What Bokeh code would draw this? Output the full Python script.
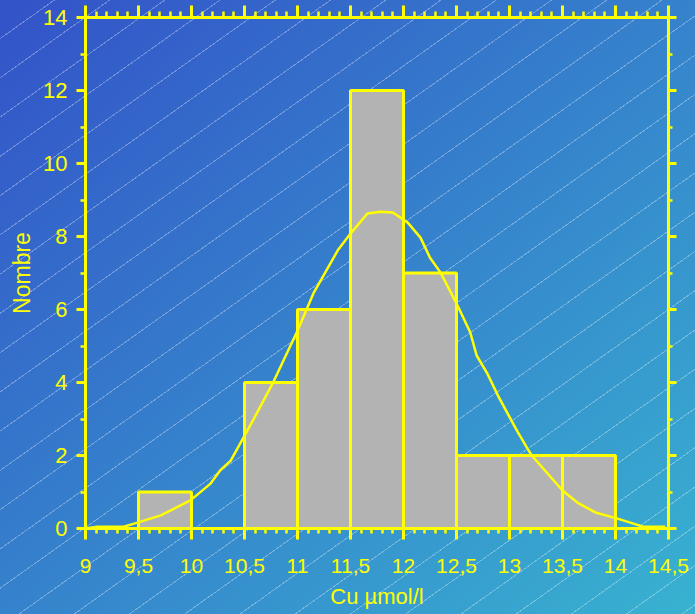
from bokeh.plotting import figure
from bokeh.models import (Range1d, LinearAxis, FixedTicker, ColumnDataSource,
                          GlobalInlineStyleSheet)
from bokeh.embed import file_html
from bokeh.resources import INLINE

# ---- data ----
bin_left = [9.5, 10.0, 10.5, 11.0, 11.5, 12.0, 12.5, 13.0, 13.5]
bin_right = [10.0, 10.5, 11.0, 11.5, 12.0, 12.5, 13.0, 13.5, 14.0]
counts = [1, 0, 4, 6, 12, 7, 2, 2, 2]

curve_x = [9.0, 9.11, 9.36, 9.49, 9.71, 9.99, 10.18, 10.27, 10.37, 10.58, 10.77,
           11.0, 11.15, 11.38, 11.5, 11.66, 11.78, 11.9, 12.04, 12.16, 12.25,
           12.35, 12.51, 12.63, 12.69, 12.79, 12.9, 13.07, 13.17, 13.21, 13.5,
           13.64, 13.81, 14.02, 14.26, 14.47]
curve_y = [0.0, 0.05, 0.05, 0.16, 0.36, 0.77, 1.23, 1.59, 1.86, 2.96, 4.0,
           5.42, 6.44, 7.62, 8.08, 8.63, 8.68, 8.66, 8.38, 7.97, 7.42,
           7.01, 6.11, 5.37, 4.74, 4.25, 3.59, 2.68, 2.19, 2.0, 1.04,
           0.71, 0.44, 0.27, 0.05, 0.05]

x_ticks = [9.0, 9.5, 10.0, 10.5, 11.0, 11.5, 12.0, 12.5, 13.0, 13.5, 14.0, 14.5]
x_tick_labels = ["9", "9,5", "10", "10,5", "11", "11,5", "12", "12,5", "13",
                 "13,5", "14", "14,5"]
x_minor = [round(9 + 0.1 * i, 1) for i in range(56)]
y_ticks = [0, 2, 4, 6, 8, 10, 12, 14]
y_tick_labels = ["0", "2", "4", "6", "8", "10", "12", "14"]
y_minor = list(range(0, 15))

x_label = "Cu µmol/l"
y_label = "Nombre"

YEL = "#ffff00"
FONT = "Liberation Sans"

css = GlobalInlineStyleSheet(css="""
html, body { margin: 0; padding: 0; height: 100%; overflow: hidden; }
html {
  background:
    repeating-linear-gradient(144.6deg, rgba(255,255,255,0) 0px, rgba(255,255,255,0) 31px,
                              rgba(255,255,255,0.3) 31px, rgba(255,255,255,0.3) 32px),
    linear-gradient(to bottom right, #3352c8, #38b2d0);
}
body { background: transparent; }
""")

p = figure(width=695, height=614, output_backend="svg", toolbar_location=None,
           x_range=Range1d(9, 14.5), y_range=Range1d(0, 14),
           x_axis_location=None, y_axis_location=None,
           min_border_left=85, min_border_right=27, min_border_top=17,
           min_border_bottom=86)
p.stylesheets = [css]
p.border_fill_alpha = 0
p.background_fill_alpha = 0
p.outline_line_color = None
p.grid.visible = False

src = ColumnDataSource(dict(left=bin_left, right=bin_right, top=counts,
                            bottom=[0] * len(counts)))
p.quad(left="left", right="right", top="top", bottom="bottom", source=src,
       fill_color="#b3b3b3", line_color=YEL, line_width=3)
p.line(curve_x, curve_y, line_color=YEL, line_width=2.5)

xt = FixedTicker(ticks=x_ticks, minor_ticks=x_minor)
yt = FixedTicker(ticks=y_ticks, minor_ticks=y_minor)


def style(ax, tick_out, minor_out, labels=True):
    ax.axis_line_color = YEL
    ax.axis_line_width = 3
    ax.major_tick_line_color = YEL
    ax.major_tick_line_width = 3
    ax.minor_tick_line_color = YEL
    ax.minor_tick_line_width = 2.5
    ax.major_tick_in = 0
    ax.minor_tick_in = 0
    ax.major_tick_out = tick_out
    ax.minor_tick_out = minor_out
    ax.major_label_text_color = YEL
    ax.major_label_text_font = FONT
    ax.axis_label_text_color = YEL
    ax.axis_label_text_font = FONT
    ax.axis_label_text_font_style = "normal"
    if not labels:
        ax.major_label_text_color = None
        ax.major_label_standoff = 0


bottom = LinearAxis(ticker=xt, axis_label=x_label)
style(bottom, 11, 5)
bottom.major_label_overrides = {t: s for t, s in zip(x_ticks, x_tick_labels)}
bottom.major_label_text_font_size = "21px"
bottom.major_label_standoff = 19
bottom.axis_label_text_font_size = "22px"
bottom.axis_label_standoff = 8
p.add_layout(bottom, "below")

left = LinearAxis(ticker=yt, axis_label=y_label)
style(left, 9, 5)
left.major_label_overrides = {t: s for t, s in zip(y_ticks, y_tick_labels)}
left.major_label_text_font_size = "22px"
left.major_label_standoff = 9
left.axis_label_text_font_size = "23px"
left.axis_label_standoff = 5
p.add_layout(left, "left")

top = LinearAxis(ticker=xt)
style(top, 12, 6, labels=False)
p.add_layout(top, "above")

right = LinearAxis(ticker=yt)
style(right, 8, 4, labels=False)
p.add_layout(right, "right")

open("out.html", "w").write(file_html(p, INLINE))
